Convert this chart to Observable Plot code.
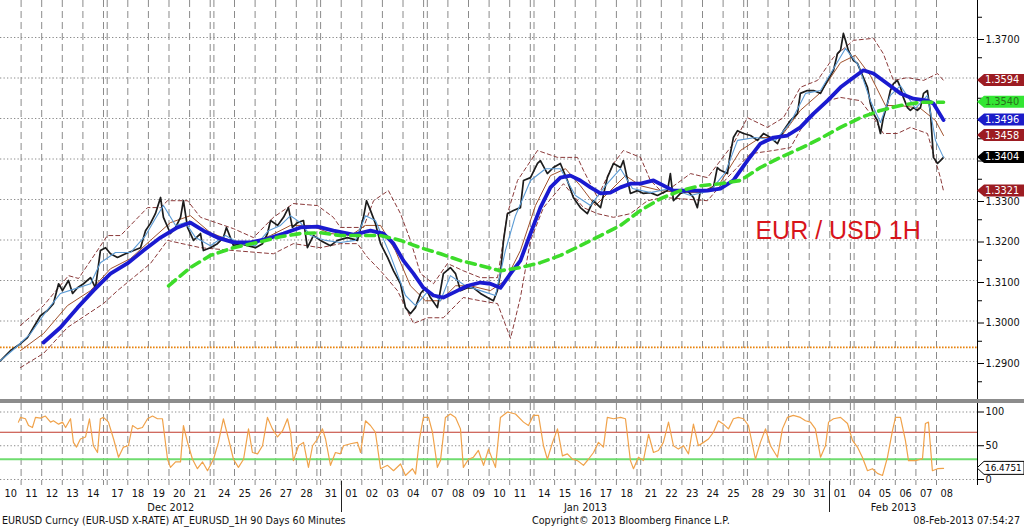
<!DOCTYPE html>
<html><head><meta charset="utf-8">
<script src="https://cdn.jsdelivr.net/npm/d3@7"></script>
<script src="https://cdn.jsdelivr.net/npm/@observablehq/plot@0.6"></script>
<style>
html,body{margin:0;padding:0;background:#fff;}
#wrap{position:relative;width:1024px;height:528px;overflow:hidden;background:#fff;font-family:"DejaVu Sans",sans-serif;}
#main{position:absolute;left:0;top:0;}
#sub{position:absolute;left:0;top:400px;}
#sep{position:absolute;left:0;top:399px;width:1024px;height:4px;background:#8c8c8c;}
.foot{position:absolute;top:514px;font-size:9.6px;color:#111;white-space:nowrap;line-height:14px;font-family:"DejaVu Sans",sans-serif;}
</style></head>
<body><div id="wrap"><div id="main"></div><div id="sub"></div><div id="sep"></div>
<div class="foot" style="left:2px">EURUSD Curncy (EUR-USD X-RATE) AT_EURUSD_1H 90 Days 60 Minutes</div>
<div class="foot" style="left:532px">Copyright© 2013 Bloomberg Finance L.P.</div>
<div class="foot" style="right:4px">08-Feb-2013 07:54:27</div>
</div>
<script>
// ---- trading days shown on the time axis ----
const dates = ["2012-12-10","2012-12-11","2012-12-12","2012-12-13","2012-12-14","2012-12-17","2012-12-18","2012-12-19","2012-12-20","2012-12-21","2012-12-24","2012-12-25","2012-12-26","2012-12-27","2012-12-28","2012-12-31",
"2013-01-01","2013-01-02","2013-01-03","2013-01-04","2013-01-07","2013-01-08","2013-01-09","2013-01-10","2013-01-11","2013-01-14","2013-01-15","2013-01-16","2013-01-17","2013-01-18","2013-01-21","2013-01-22","2013-01-23","2013-01-24","2013-01-25","2013-01-28","2013-01-29","2013-01-30","2013-01-31",
"2013-02-01","2013-02-04","2013-02-05","2013-02-06","2013-02-07","2013-02-08"];
const WEEKEND_GAP = 0.18;   // width of a weekend, in trading days
const X_MAX = 47.43;        // right end of the time axis, in trading days

// ---- series: [time in trading days, value] ----
const price = [[0.00,1.2902],[0.49,1.2927],[0.97,1.2944],[1.31,1.2959],[1.60,1.2984],[1.94,1.3013],[2.28,1.3026],[2.57,1.3043],[2.82,1.3092],[3.01,1.3075],[3.30,1.3100],[3.50,1.3068],[3.74,1.3082],[4.03,1.3092],[4.37,1.3107],[4.61,1.3082],[4.85,1.3174],[5.10,1.3181],[5.34,1.3166],[5.68,1.3157],[6.07,1.3166],[6.46,1.3174],[6.80,1.3181],[7.04,1.3223],[7.28,1.3241],[7.52,1.3265],[7.77,1.3305],[7.91,1.3256],[8.25,1.3216],[8.50,1.3231],[8.74,1.3256],[8.88,1.3297],[9.08,1.3231],[9.37,1.3199],[9.71,1.3216],[9.85,1.3174],[10.19,1.3181],[10.53,1.3191],[10.82,1.3206],[10.97,1.3231],[11.31,1.3186],[11.65,1.3191],[11.99,1.3186],[12.38,1.3181],[12.72,1.3191],[12.96,1.3216],[13.11,1.3248],[13.45,1.3236],[13.74,1.3256],[13.98,1.3280],[14.17,1.3231],[14.42,1.3243],[14.71,1.3248],[14.90,1.3181],[15.19,1.3211],[15.53,1.3199],[16.02,1.3186],[16.36,1.3199],[16.84,1.3206],[17.33,1.3199],[17.62,1.3256],[17.77,1.3297],[17.96,1.3273],[18.20,1.3241],[18.45,1.3191],[18.79,1.3157],[19.08,1.3124],[19.42,1.3092],[19.66,1.3033],[19.90,1.3018],[20.14,1.3033],[20.39,1.3068],[20.63,1.3082],[20.87,1.3058],[21.21,1.3033],[21.50,1.3117],[21.84,1.3132],[22.09,1.3117],[22.33,1.3075],[22.67,1.3082],[22.96,1.3082],[23.30,1.3068],[23.64,1.3058],[23.93,1.3050],[24.12,1.3075],[24.27,1.3117],[24.42,1.3199],[24.61,1.3265],[24.90,1.3273],[25.24,1.3280],[25.39,1.3347],[25.73,1.3354],[26.07,1.3389],[26.21,1.3396],[26.55,1.3364],[26.84,1.3379],[27.18,1.3389],[27.52,1.3347],[27.81,1.3305],[28.15,1.3280],[28.49,1.3265],[28.78,1.3297],[29.13,1.3280],[29.46,1.3354],[29.76,1.3389],[30.10,1.3379],[30.24,1.3396],[30.58,1.3315],[30.92,1.3322],[31.21,1.3315],[31.55,1.3317],[31.89,1.3310],[32.38,1.3322],[32.52,1.3364],[32.67,1.3297],[33.01,1.3315],[33.35,1.3322],[33.64,1.3305],[33.83,1.3280],[33.98,1.3322],[34.32,1.3322],[34.61,1.3330],[34.80,1.3379],[34.95,1.3372],[35.29,1.3364],[35.43,1.3413],[35.58,1.3453],[35.78,1.3470],[36.07,1.3463],[36.41,1.3458],[36.75,1.3446],[37.04,1.3463],[37.38,1.3453],[37.72,1.3438],[38.01,1.3470],[38.35,1.3495],[38.69,1.3512],[38.83,1.3562],[39.17,1.3569],[39.47,1.3569],[39.81,1.3562],[40.15,1.3594],[40.44,1.3619],[40.63,1.3660],[40.78,1.3668],[40.92,1.3710],[41.02,1.3693],[41.16,1.3668],[41.41,1.3643],[41.60,1.3636],[41.89,1.3601],[42.09,1.3577],[42.23,1.3537],[42.38,1.3512],[42.57,1.3495],[42.72,1.3463],[42.86,1.3502],[43.06,1.3537],[43.20,1.3569],[43.35,1.3586],[43.54,1.3594],[43.69,1.3577],[43.83,1.3552],[44.03,1.3527],[44.17,1.3520],[44.32,1.3527],[44.51,1.3520],[44.66,1.3527],[44.81,1.3562],[45.00,1.3569],[45.15,1.3512],[45.29,1.3404],[45.49,1.3389],[45.63,1.3396],[45.78,1.3404]];

const fastMA = [[0.00,1.2902],[0.73,1.2934],[1.46,1.2969],[2.18,1.3021],[2.91,1.3068],[3.64,1.3080],[4.37,1.3092],[4.85,1.3144],[5.58,1.3169],[6.31,1.3169],[7.04,1.3211],[7.52,1.3253],[7.91,1.3285],[8.50,1.3236],[8.98,1.3243],[9.47,1.3206],[10.19,1.3186],[10.92,1.3211],[11.65,1.3191],[12.38,1.3186],[13.01,1.3223],[13.59,1.3236],[14.08,1.3260],[14.56,1.3243],[15.05,1.3211],[15.78,1.3199],[16.50,1.3194],[17.23,1.3199],[17.72,1.3260],[18.20,1.3248],[18.93,1.3162],[19.66,1.3063],[20.15,1.3038],[20.78,1.3075],[21.36,1.3050],[21.84,1.3112],[22.57,1.3087],[23.30,1.3075],[24.03,1.3063],[24.51,1.3174],[25.00,1.3260],[25.73,1.3347],[26.46,1.3376],[27.18,1.3376],[27.91,1.3310],[28.64,1.3285],[29.37,1.3334],[30.10,1.3376],[30.68,1.3327],[31.55,1.3317],[32.52,1.3327],[33.50,1.3310],[34.47,1.3322],[35.19,1.3367],[35.78,1.3446],[36.65,1.3453],[37.62,1.3446],[38.35,1.3490],[39.08,1.3562],[39.81,1.3569],[40.53,1.3631],[41.02,1.3673],[41.65,1.3631],[42.23,1.3544],[42.72,1.3490],[43.20,1.3557],[43.69,1.3581],[44.42,1.3525],[45.00,1.3557],[45.39,1.3446],[45.78,1.3404]];

const midBand = [[0.97,1.2927],[2.09,1.2969],[3.25,1.3038],[4.37,1.3075],[5.34,1.3129],[6.31,1.3154],[7.28,1.3199],[8.25,1.3243],[9.22,1.3260],[10.19,1.3218],[11.16,1.3199],[12.14,1.3191],[13.11,1.3211],[14.08,1.3236],[15.05,1.3236],[16.02,1.3216],[16.99,1.3211],[17.72,1.3236],[18.45,1.3236],[19.17,1.3174],[19.90,1.3087],[20.63,1.3050],[21.36,1.3050],[22.09,1.3087],[22.82,1.3087],[23.78,1.3075],[24.51,1.3100],[25.24,1.3174],[25.97,1.3285],[26.70,1.3359],[27.43,1.3376],[28.15,1.3334],[28.88,1.3285],[29.61,1.3322],[30.34,1.3359],[31.07,1.3334],[32.04,1.3322],[33.01,1.3317],[33.98,1.3317],[34.95,1.3342],[35.92,1.3421],[36.89,1.3453],[37.86,1.3453],[38.83,1.3520],[39.81,1.3564],[40.78,1.3638],[41.50,1.3656],[42.23,1.3606],[42.96,1.3532],[43.69,1.3532],[44.66,1.3525],[45.39,1.3495],[45.78,1.3458]];

const upperBand = [[0.97,1.2989],[2.09,1.3038],[3.30,1.3112],[3.79,1.3105],[5.19,1.3211],[5.83,1.3211],[7.14,1.3280],[7.77,1.3280],[8.11,1.3297],[9.08,1.3297],[9.71,1.3256],[11.31,1.3228],[12.28,1.3206],[13.25,1.3256],[14.22,1.3290],[15.39,1.3285],[16.16,1.3256],[16.50,1.3231],[17.62,1.3231],[18.11,1.3297],[18.83,1.3322],[19.42,1.3265],[19.90,1.3199],[20.39,1.3117],[21.02,1.3092],[21.70,1.3142],[22.47,1.3124],[23.30,1.3107],[24.13,1.3107],[24.61,1.3265],[25.10,1.3347],[26.07,1.3421],[27.04,1.3404],[28.01,1.3404],[28.30,1.3372],[28.98,1.3305],[29.76,1.3389],[30.24,1.3421],[31.07,1.3404],[31.55,1.3347],[32.18,1.3315],[33.50,1.3364],[34.32,1.3354],[34.95,1.3396],[35.58,1.3438],[36.26,1.3502],[37.23,1.3478],[38.01,1.3502],[38.83,1.3577],[39.66,1.3594],[40.44,1.3651],[41.41,1.3693],[42.38,1.3698],[42.86,1.3660],[43.35,1.3594],[44.03,1.3601],[44.81,1.3594],[45.49,1.3611],[45.78,1.3594]];

const lowerBand = [[0.97,1.2885],[2.09,1.2920],[3.25,1.2984],[5.00,1.3043],[5.68,1.3075],[7.28,1.3142],[8.11,1.3199],[9.71,1.3181],[11.31,1.3174],[13.25,1.3166],[14.22,1.3191],[15.53,1.3181],[16.50,1.3191],[17.33,1.3191],[17.82,1.3157],[18.45,1.3124],[19.27,1.3075],[20.05,1.2994],[20.73,1.3008],[21.50,1.3008],[22.47,1.3058],[23.30,1.3050],[24.13,1.3043],[24.76,1.2957],[25.24,1.3058],[25.73,1.3199],[26.36,1.3280],[27.33,1.3339],[28.30,1.3280],[28.98,1.3265],[29.76,1.3256],[30.58,1.3265],[31.41,1.3297],[32.18,1.3305],[34.32,1.3297],[35.29,1.3354],[36.41,1.3413],[37.52,1.3421],[38.35,1.3428],[39.17,1.3502],[40.15,1.3544],[40.78,1.3552],[41.75,1.3544],[42.38,1.3502],[42.86,1.3463],[43.54,1.3463],[44.17,1.3478],[45.00,1.3463],[45.63,1.3354],[45.78,1.3321]];

const blueMA = [[2.09,1.2947],[2.91,1.2984],[3.74,1.3033],[4.51,1.3075],[5.34,1.3117],[6.16,1.3142],[6.94,1.3174],[7.77,1.3206],[8.59,1.3231],[9.22,1.3243],[9.85,1.3223],[10.53,1.3206],[11.31,1.3194],[12.14,1.3194],[12.96,1.3203],[13.74,1.3216],[14.56,1.3231],[15.39,1.3233],[16.16,1.3223],[17.13,1.3213],[17.96,1.3223],[18.59,1.3216],[19.08,1.3191],[19.56,1.3149],[20.05,1.3117],[20.53,1.3082],[21.02,1.3063],[21.50,1.3058],[21.99,1.3070],[22.67,1.3087],[23.30,1.3095],[23.78,1.3092],[24.27,1.3082],[24.76,1.3117],[25.24,1.3149],[25.73,1.3216],[26.21,1.3280],[26.70,1.3330],[27.18,1.3354],[27.67,1.3359],[28.15,1.3347],[28.64,1.3330],[29.13,1.3315],[29.61,1.3317],[30.10,1.3330],[30.58,1.3339],[31.07,1.3339],[31.70,1.3347],[32.67,1.3322],[34.32,1.3322],[34.95,1.3327],[35.58,1.3347],[36.26,1.3396],[36.89,1.3438],[37.52,1.3453],[38.20,1.3458],[38.83,1.3478],[39.47,1.3512],[40.15,1.3544],[40.78,1.3577],[41.41,1.3601],[41.89,1.3619],[42.38,1.3611],[43.06,1.3586],[43.69,1.3562],[44.32,1.3549],[45.00,1.3544],[45.29,1.3537],[45.78,1.3496]];

const greenMA = [[8.16,1.3087],[9.22,1.3132],[10.19,1.3162],[11.31,1.3181],[12.48,1.3194],[13.59,1.3208],[14.56,1.3216],[15.53,1.3218],[16.50,1.3211],[18.45,1.3211],[19.42,1.3199],[20.39,1.3181],[21.36,1.3166],[22.33,1.3149],[23.30,1.3137],[24.27,1.3124],[25.24,1.3132],[26.21,1.3144],[27.18,1.3162],[28.15,1.3186],[29.13,1.3211],[30.10,1.3236],[31.07,1.3273],[32.04,1.3302],[33.01,1.3322],[33.98,1.3334],[34.95,1.3339],[35.92,1.3347],[36.89,1.3379],[37.86,1.3404],[38.83,1.3426],[39.81,1.3451],[40.78,1.3478],[41.75,1.3502],[42.72,1.3520],[43.69,1.3532],[44.66,1.3540],[45.78,1.3540]];

const rsi = [[0.87,85],[0.97,92],[1.21,90],[1.36,80],[1.55,77],[1.70,92],[1.94,91],[2.18,94],[2.43,85],[2.57,87],[2.82,82],[3.01,85],[3.16,77],[3.40,90],[3.54,55],[3.69,48],[3.88,60],[4.13,63],[4.32,90],[4.51,50],[4.71,40],[4.85,90],[5.00,92],[5.24,85],[5.49,60],[5.73,33],[5.97,48],[6.21,50],[6.41,80],[6.65,75],[6.89,77],[7.14,90],[7.38,94],[7.62,90],[7.86,90],[8.11,30],[8.25,18],[8.50,26],[8.74,26],[8.88,80],[9.08,55],[9.32,30],[9.56,16],[9.81,26],[10.05,13],[10.34,30],[10.58,55],[10.82,90],[11.07,60],[11.31,30],[11.55,18],[11.80,30],[12.04,75],[12.23,40],[12.48,38],[12.72,50],[12.96,92],[13.20,75],[13.45,63],[13.69,72],[13.93,90],[14.08,70],[14.22,28],[14.47,50],[14.71,55],[14.95,18],[15.15,50],[15.39,60],[15.63,75],[15.78,60],[16.02,21],[16.26,40],[16.50,38],[16.65,50],[16.99,53],[17.33,55],[17.48,40],[17.72,87],[17.96,80],[18.20,70],[18.45,16],[18.79,21],[19.08,13],[19.42,23],[19.66,6],[20.00,16],[20.15,8],[20.34,60],[20.53,92],[20.78,92],[20.97,70],[21.21,18],[21.36,28],[21.60,92],[21.84,97],[22.09,92],[22.33,75],[22.47,18],[22.72,30],[22.96,33],[23.20,43],[23.45,21],[23.69,45],[24.03,18],[24.27,92],[24.61,100],[25.00,97],[25.39,85],[25.63,80],[25.87,95],[26.12,95],[26.36,50],[26.55,30],[26.80,55],[27.04,75],[27.28,35],[27.52,38],[27.77,30],[28.01,28],[28.30,21],[28.54,30],[28.79,40],[29.03,55],[29.27,48],[29.46,92],[29.76,90],[30.10,92],[30.34,90],[30.58,28],[30.73,16],[30.97,33],[31.21,28],[31.46,67],[31.70,40],[31.94,43],[32.18,55],[32.43,85],[32.67,50],[32.91,45],[33.16,50],[33.40,38],[33.64,82],[33.88,50],[34.13,55],[34.37,60],[34.61,70],[34.85,87],[35.10,82],[35.34,75],[35.58,90],[35.82,92],[36.07,90],[36.31,80],[36.65,30],[36.89,55],[37.14,75],[37.38,50],[37.72,33],[37.96,75],[38.20,92],[38.49,95],[38.83,92],[39.08,87],[39.32,85],[39.56,75],[39.81,33],[40.05,50],[40.20,85],[40.44,90],[40.78,92],[41.12,83],[41.36,58],[41.60,48],[41.84,33],[42.09,13],[42.33,16],[42.57,9],[42.82,6],[43.06,33],[43.30,72],[43.45,92],[43.69,92],[43.93,58],[44.08,28],[44.42,28],[44.76,31],[44.90,83],[45.05,85],[45.24,13],[45.49,16],[45.78,16.4751]];

// ---- axes, reference levels, last-value tags ----
const priceTicks = [1.29,1.30,1.31,1.32,1.33,1.34,1.35,1.36,1.37];
const priceMinorTicks = [1.285,1.295,1.305,1.315,1.325,1.335,1.345,1.355,1.365,1.375];
const supportLevel = 1.2935;
const rsiTicks = [0,50,100];
const rsiUpper = 70, rsiLower = 30;
const tagValues = [1.3594,1.3540,1.3496,1.3458,1.3404,1.3321];
const tagFills  = ["#9c1c22","#33e633","#1c1cc8","#9c1c22","#000000","#9c1c22"];
const tagInks   = ["#ffffff","#2a6e1c","#ffffff","#ffffff","#ffffff","#ffffff"];
const rsiLast = 16.4751;
const annotation = [{label:"EUR / USD 1H", t:36.65, v:1.3223}];

// ---- derived layout of days ----
const days = [];
let pos = 0;
dates.forEach((s, i) => {
  const d = new Date(s + "T00:00:00Z");
  let gapBefore = false;
  if (i > 0) {
    gapBefore = (d - days[i-1].date) / 864e5 >= 3;
    pos += 1 + (gapBefore ? WEEKEND_GAP : 0);
  }
  days.push({date:d, pos, gapBefore, label:d3.utcFormat("%d")(d), month:d3.utcFormat("%b %Y")(d)});
});
const boundaries = [];
days.forEach((d, i) => { if (i === 0) return; if (d.gapBefore) boundaries.push(days[i-1].pos + 1); boundaries.push(d.pos); });
const months = d3.groups(days, d => d.month).map(([m, ds]) => ({label:m, start:ds[0].pos, center:(ds[0].pos + ds[ds.length-1].pos + 1) / 2}));

// tick labels hidden behind a last-value tag (as on the terminal)
const fmt4 = d3.format(".4f");
const priceLabel = v => tagValues.some(t => Math.abs(t - v) < 0.0012) ? "" : fmt4(v);

const obj = a => a.map(([t, v]) => ({t, v}));
const FONT = "DejaVu Sans";
const grid = {stroke:"#8a8a8a", strokeDasharray:"7,4", strokeWidth:1};

function tagMark(values, fills, inks, fmt, stroke, fontSize = 9.8, half = 6.5) {
  return (index, scales, vals, dims) => {
    const g = d3.create("svg:g").attr("font-family", FONT).attr("font-size", fontSize).attr("text-anchor", "start");
    const x0 = dims.width - dims.marginRight;
    values.forEach((v, i) => {
      const y = scales.y(v);
      g.append("path")
        .attr("d", `M${x0},${y}L${x0+7},${y-half}H${dims.width}V${y+half}H${x0+7}Z`)
        .attr("fill", fills[i]).attr("stroke", stroke || "none").attr("stroke-width", 1);
      g.append("text").attr("x", x0 + 8).attr("y", y).attr("dy", "0.36em")
        .attr("text-anchor", "start").attr("fill", inks[i]).text(fmt(v));
    });
    return g.node();
  };
}

const main = Plot.plot({
  width:1024, height:400, marginLeft:0, marginRight:47, marginTop:0, marginBottom:0,
  style:{fontFamily:FONT, fontSize:"9.8px", color:"#111", background:"transparent", overflow:"visible"},
  x:{domain:[0, X_MAX], axis:null},
  y:{domain:[1.280371, 1.379136], label:null},
  marks:[
    Plot.ruleY(priceTicks, {stroke:"#8a8a8a", strokeDasharray:"1.3,2.2", strokeWidth:1}),
    Plot.ruleX(boundaries, grid),
    Plot.ruleY([supportLevel], {stroke:"#e8820c", strokeDasharray:"1.6,1.4", strokeWidth:1.6}),
    Plot.line(obj(upperBand), {x:"t", y:"v", stroke:"#8b3a3a", strokeDasharray:"4,3", strokeWidth:1}),
    Plot.line(obj(lowerBand), {x:"t", y:"v", stroke:"#8b3a3a", strokeDasharray:"4,3", strokeWidth:1}),
    Plot.line(obj(midBand), {x:"t", y:"v", stroke:"#a0522d", strokeWidth:1}),
    Plot.line(obj(price), {x:"t", y:"v", stroke:"#1c1c1c", strokeWidth:1.7}),
    Plot.line(obj(fastMA), {x:"t", y:"v", stroke:"#5b9bd5", strokeWidth:1.1}),
    Plot.line(obj(blueMA), {x:"t", y:"v", stroke:"#1a1ad0", strokeWidth:3.8}),
    Plot.line(obj(greenMA), {x:"t", y:"v", stroke:"#3ddc2a", strokeWidth:3.6, strokeDasharray:"9,6"}),
    Plot.text(annotation, {x:"t", y:"v", text:"label", textAnchor:"start", fill:"#d8141a", fontSize:25, fontFamily:"Liberation Sans"}),
    Plot.ruleX([X_MAX], {stroke:"#000", strokeWidth:1}),
    Plot.axisY(priceMinorTicks, {anchor:"right", tickSize:4, tickFormat:() => "", stroke:"#000", label:null}),
    Plot.axisY(priceTicks, {anchor:"right", tickSize:6, tickPadding:2, tickFormat:priceLabel, stroke:"#000", fill:"#111", label:null, dy:2}),
    tagMark(tagValues, tagFills, tagInks, fmt4, null, 9.8, 6)
  ]
});
document.getElementById("main").append(main);

const sub = Plot.plot({
  width:1024, height:128, marginLeft:0, marginRight:47, marginTop:3, marginBottom:43,
  style:{fontFamily:FONT, fontSize:"9.8px", color:"#111", background:"transparent", overflow:"visible"},
  x:{domain:[0, X_MAX], axis:null},
  y:{domain:[-8.9, 112.6], label:null},
  marks:[
    Plot.ruleY(rsiTicks, {stroke:"#8a8a8a", strokeDasharray:"1.3,2.2", strokeWidth:1}),
    Plot.ruleX(boundaries, grid),
    Plot.ruleY([rsiUpper], {stroke:"#c0392b", strokeWidth:1.2}),
    Plot.ruleY([rsiLower], {stroke:"#6fdc6f", strokeWidth:2}),
    Plot.line(obj(rsi), {x:"t", y:"v", stroke:"#f0a24a", strokeWidth:1.2}),
    Plot.ruleX([X_MAX], {stroke:"#000", strokeWidth:1}),
    Plot.axisY(rsiTicks, {anchor:"right", tickSize:6, tickPadding:2, stroke:"#000", fill:"#111", label:null}),
    Plot.text(days, {x:d => d.pos + 0.5, text:"label", frameAnchor:"bottom", dy:8, lineAnchor:"middle", fill:"#111"}),
    Plot.text(months, {x:"center", text:"label", frameAnchor:"bottom", dy:22, lineAnchor:"middle", fill:"#111"}),
    (index, scales, vals, dims) => {
      const g = d3.create("svg:g");
      const yb = dims.height - dims.marginBottom;
      months.slice(1).forEach(m => {
        const x = Math.round(scales.x(m.start)) + 0.5;
        g.append("line").attr("x1", x).attr("x2", x).attr("y1", yb - 4).attr("y2", yb + 27).attr("stroke", "#222");
      });
      return g.node();
    },
    tagMark([rsiLast], ["#ffffff"], ["#000000"], fmt4, "#000", 8.9, 6.5)
  ]
});
document.getElementById("sub").append(sub);
</script>
</body></html>
